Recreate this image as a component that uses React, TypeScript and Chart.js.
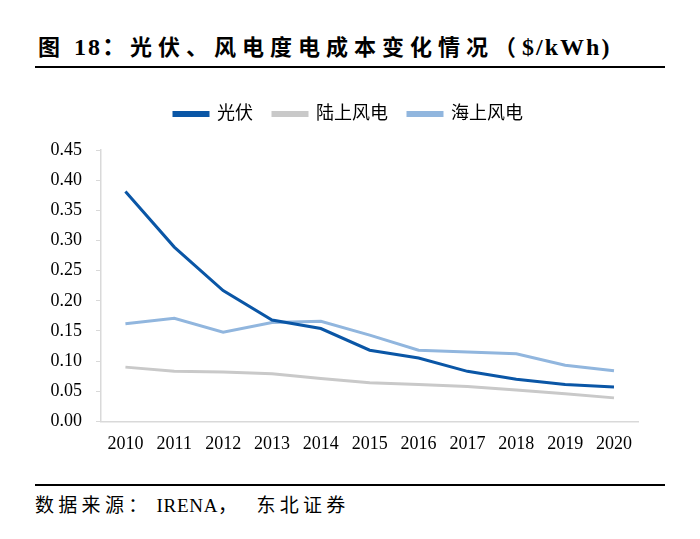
import React, { useEffect, useRef } from "react";
import { Chart, registerables } from "chart.js";

Chart.register(...registerables);

const years = ["2010", "2011", "2012", "2013", "2014", "2015", "2016", "2017", "2018", "2019", "2020"];
const solar = [0.381, 0.289, 0.217, 0.168, 0.154, 0.118, 0.105, 0.083, 0.070, 0.061, 0.057];
const onshore = [0.090, 0.083, 0.082, 0.079, 0.071, 0.064, 0.061, 0.058, 0.052, 0.046, 0.039];
const offshore = [0.162, 0.171, 0.148, 0.164, 0.166, 0.143, 0.118, 0.115, 0.112, 0.093, 0.084];
const seriesNames = ["光伏", "陆上风电", "海上风电"];
const yTicks = [0, 0.05, 0.1, 0.15, 0.2, 0.25, 0.3, 0.35, 0.4, 0.45];

const titleParts = ["图", "18：", "光伏、风电度电成本变化情况（", "$/kWh)"];
const sourceParts = ["数据来源：", "IRENA", "，", "东北证券"];

const serif = '"Liberation Serif", "Times New Roman", "Noto Sans CJK SC", serif';
const cjk = '"Liberation Serif", "Noto Sans CJK SC", sans-serif';

const legendSpacer = {
  id: "legendSpacer",
  beforeInit(chart: any) {
    const origFit = chart.legend.fit;
    chart.legend.fit = function () {
      origFit.bind(chart.legend)();
      this.height += 17;
    };
  },
  afterLayout(chart: any) {
    if (chart.legend) chart.legend.left = chart.legend.left + 33;
  },
};

export default function App() {
  const ref = useRef<HTMLCanvasElement | null>(null);

  useEffect(() => {
    if (!ref.current) return;
    const chart = new Chart(ref.current, {
      type: "line",
      data: {
        labels: years,
        datasets: [
          { label: seriesNames[0], data: solar, borderColor: "#0A56A6", backgroundColor: "#0A56A6", borderWidth: 3, pointRadius: 0, tension: 0 },
          { label: seriesNames[1], data: onshore, borderColor: "#C9C9C9", backgroundColor: "#C9C9C9", borderWidth: 3, pointRadius: 0, tension: 0 },
          { label: seriesNames[2], data: offshore, borderColor: "#91B6DE", backgroundColor: "#91B6DE", borderWidth: 3, pointRadius: 0, tension: 0 },
        ],
      },
      plugins: [legendSpacer],
      options: {
        animation: false,
        responsive: false,
        maintainAspectRatio: false,
        layout: { padding: { left: 0, right: 0, top: 0, bottom: 0 } },
        plugins: {
          tooltip: { enabled: false },
          legend: {
            position: "top",
            labels: {
              boxWidth: 34,
              boxHeight: 3,
              padding: 20,
              color: "#000",
              font: { family: cjk, size: 18 },
            },
          },
        },
        scales: {
          x: {
            offset: true,
            grid: { display: false, drawTicks: false },
            border: { display: true, color: "#D9D9D9", width: 1.5 },
            ticks: { color: "#000", font: { family: serif, size: 18 }, padding: 12, maxRotation: 0 },
          },
          y: {
            min: 0,
            max: 0.45,
            afterBuildTicks: (axis: any) => {
              axis.ticks = yTicks.map((v) => ({ value: v }));
            },
            afterFit: (axis: any) => {
              axis.width = 81;
            },
            grid: { display: true, drawOnChartArea: false, drawTicks: true, tickLength: 5, color: "#D9D9D9" },
            border: { display: true, color: "#D9D9D9", width: 1.5 },
            ticks: {
              color: "#000",
              font: { family: serif, size: 18 },
              padding: 14,
              callback: (v: any) => Number(v).toFixed(2),
            },
          },
        },
      },
    });
    return () => chart.destroy();
  }, []);

  const titleCjk = { fontSize: 22, letterSpacing: "6px" };
  const titleLatin = { fontSize: 24, letterSpacing: "2px" };

  return (
    <div style={{ position: "absolute", left: 0, top: 0, width: 700, height: 539, background: "#fff", overflow: "hidden" }}>
      <div
        style={{
          position: "absolute",
          left: 38,
          top: 32,
          fontFamily: '"Liberation Serif", "Noto Sans CJK SC", serif',
          fontWeight: "bold",
          lineHeight: "30px",
          color: "#000",
          whiteSpace: "pre",
        }}
      >
        <span style={titleCjk}>{titleParts[0]}</span>
        <span style={{ ...titleLatin, marginLeft: 8 }}>{titleParts[1]}</span>
        <span style={{ ...titleCjk, marginLeft: 2 }}>{titleParts[2]}</span>
        <span style={titleLatin}>{titleParts[3]}</span>
      </div>
      <div style={{ position: "absolute", left: 35, top: 66, width: 630, height: 2, background: "#000" }} />
      <canvas ref={ref} width={624} height={382} style={{ position: "absolute", left: 20, top: 85, width: 624, height: 382 }} />
      <div style={{ position: "absolute", left: 35, top: 484, width: 630, height: 2, background: "#000" }} />
      <div
        style={{
          position: "absolute",
          left: 35,
          top: 494,
          fontFamily: cjk,
          fontSize: 19,
          lineHeight: "24px",
          color: "#000",
          whiteSpace: "pre",
        }}
      >
        <span style={{ letterSpacing: "4.3px" }}>{sourceParts[0]}</span>
        <span style={{ letterSpacing: "0.7px", marginLeft: 5 }}>{sourceParts[1]}</span>
        <span style={{ letterSpacing: "4.3px" }}>{sourceParts[2]}</span>
        <span style={{ letterSpacing: "4.3px", marginLeft: 15 }}>{sourceParts[3]}</span>
      </div>
    </div>
  );
}
